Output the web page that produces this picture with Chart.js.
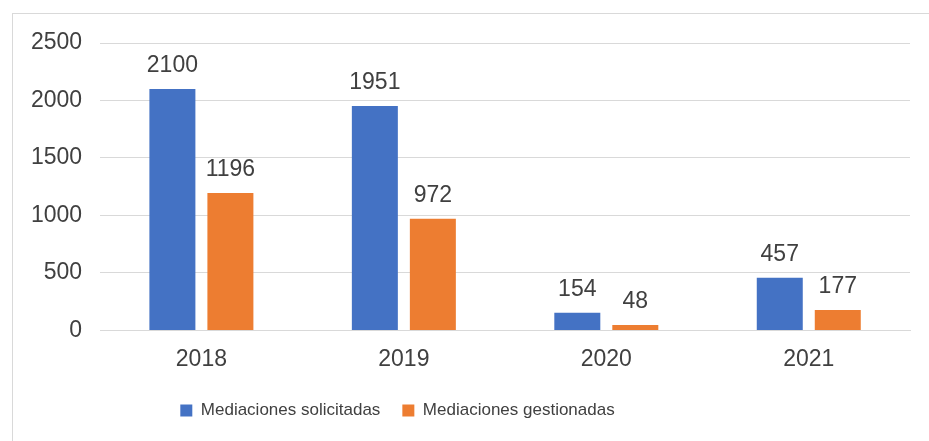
<!DOCTYPE html>
<html>
<head>
<meta charset="utf-8">
<script src="https://cdn.jsdelivr.net/npm/chart.js@4"></script>
<style>
  html, body { margin: 0; padding: 0; background: #fff; overflow: hidden; }
  #frame { position: absolute; left: 12px; top: 13px; width: 940px; height: 450px; border: 1px solid #d9d9d9; }
  #wrap { position: absolute; left: 0; top: 0; width: 929px; height: 441px; }
</style>
</head>
<body>
<div id="frame"></div>
<div id="wrap"><canvas id="chart"></canvas></div>
<script>
// data
const years = ['2018', '2019', '2020', '2021'];
const solicitadas = [2100, 1951, 154, 457];
const gestionadas = [1196, 972, 48, 177];
const yTicks = [0, 500, 1000, 1500, 2000, 2500];

const textColor = '#404040';
const fontFamily = '"Liberation Sans", Arial, sans-serif';

// draws the value above every bar
const barLabels = {
  id: 'barLabels',
  afterDatasetsDraw(chart) {
    const ctx = chart.ctx;
    ctx.save();
    ctx.font = '23px ' + fontFamily;
    ctx.fillStyle = textColor;
    ctx.textAlign = 'center';
    ctx.textBaseline = 'alphabetic';
    chart.data.datasets.forEach((ds, i) => {
      chart.getDatasetMeta(i).data.forEach((bar, j) => {
        ctx.fillText(String(ds.data[j]), bar.x, bar.y - 17);
      });
    });
    ctx.restore();
  }
};

// the legend in the original sits left of centre
const legendShift = {
  id: 'legendShift',
  afterLayout(chart) {
    if (chart.legend) {
      chart.legend.left -= 64;
      chart.legend.right -= 64;
    }
  }
};

new Chart(document.getElementById('chart'), {
  type: 'bar',
  data: {
    labels: years,
    datasets: [
      { label: 'Mediaciones solicitadas', data: solicitadas, backgroundColor: '#4472C4' },
      { label: 'Mediaciones gestionadas', data: gestionadas, backgroundColor: '#ED7D31' }
    ]
  },
  options: {
    responsive: true,
    maintainAspectRatio: false,
    animation: false,
    categoryPercentage: 0.573,
    barPercentage: 0.793,
    layout: { padding: { left: 13, right: 19, top: 43, bottom: 12 } },
    scales: {
      x: {
        grid: { display: false },
        border: { display: true, color: '#d9d9d9' },
        ticks: { color: textColor, font: { size: 23, family: fontFamily }, padding: 7 }
      },
      y: {
        min: 0,
        max: 2500,
        afterBuildTicks(axis) { axis.ticks = yTicks.map(v => ({ value: v })); },
        grid: { color: '#d9d9d9', drawTicks: false },
        border: { display: false },
        ticks: {
          color: textColor,
          font: { size: 23, family: fontFamily },
          padding: 18,
          callback: v => String(v)
        }
      }
    },
    plugins: {
      legend: {
        position: 'bottom',
        labels: {
          color: textColor,
          font: { size: 17, family: fontFamily },
          boxWidth: 12,
          boxHeight: 12,
          padding: 22
        }
      },
      tooltip: { enabled: false }
    }
  },
  plugins: [barLabels, legendShift]
});
</script>
</body>
</html>
